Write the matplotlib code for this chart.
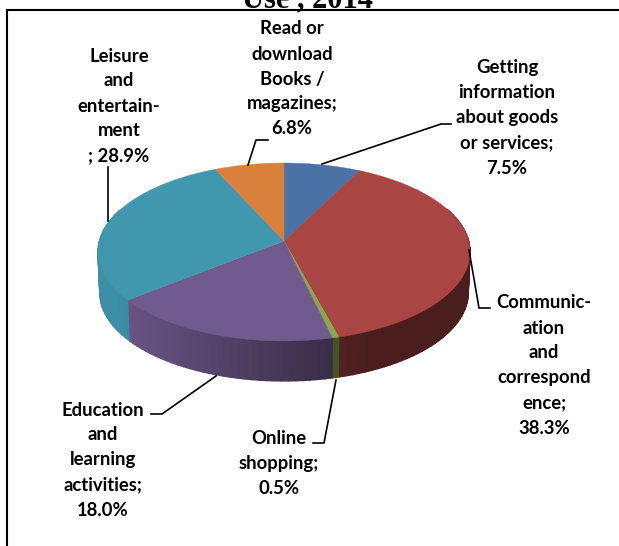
import matplotlib
matplotlib.use("Agg")
import matplotlib.pyplot as plt
import numpy as np

# values clockwise from 12 o'clock
names = ["Getting\ninformation\nabout goods\nor services;",
         "Communic-\nation\nand\ncorrespond\nence;",
         "Online\nshopping;",
         "Education\nand\nlearning\nactivities;",
         "Leisure\nand\nentertain-\nment\n",
         "Read or\ndownload\nBooks /\nmagazines;"]
shares = [7.5, 38.3, 0.5, 18.0, 28.9, 6.8]
colors = ["#4a72a6", "#a94543", "#8aa84a", "#715a8e", "#4097ae", "#d7813c"]
title = "Use , 2014"

# label centres and first line y, in pixels
label_x = [507, 544, 279, 103, 119, 292]
label_y = [68, 303, 438, 410, 56, 29]

leaders = [
    [(451, 124), (441, 124), (322, 164)],
    [(469, 250), (479, 308), (490, 308)],
    [(313, 443), (324, 443), (336, 380)],
    [(151, 414), (162, 414), (216, 376)],
    [(108, 167), (108, 221)],
    [(268, 140), (256, 140), (248, 165)],
]

# pie geometry, the slight perspective of the original 3d chart
cx, cy = 284, 241
A, B, k = 184.6, 87.6, 0.1236
depth = 41


def rim(theta, scale=1.0, dy=0):
    u = np.sin(theta)
    v = np.cos(theta)
    w = 1 + k * v
    return cx + scale * A * u / w, cy - scale * B * v / w + dy


def shade(color, x):
    m = np.clip(0.92 - (x - 130) / 205 * 0.42, 0.43, 0.95)
    return tuple(c * m for c in matplotlib.colors.to_rgb(color))


fig = plt.figure(figsize=(6.19, 5.46), dpi=100)
ax = fig.add_axes([0, 0, 1, 1])
ax.set_xlim(0, 619)
ax.set_ylim(546, 0)
ax.axis("off")

edges = np.deg2rad(np.cumsum([0] + shares) / sum(shares) * 360)

# side wall first
for i in range(len(shares)):
    a, b = edges[i], edges[i + 1]
    n = max(2, int(np.degrees(b - a) / 2) + 1)
    t = np.linspace(a, b, n)
    for t0, t1 in zip(t[:-1], t[1:]):
        if np.cos(t0) > 0.35 and np.cos(t1) > 0.35:
            continue
        x0, y0 = rim(t0)
        x1, y1 = rim(t1)
        x2, y2 = rim(t1, 0.99, depth)
        x3, y3 = rim(t0, 0.99, depth)
        col = shade(colors[i], (x0 + x1) / 2)
        ax.fill([x0, x1, x2, x3], [y0, y1, y2, y3], color=col, lw=1.0)

# top face
for i in range(len(shares)):
    t = np.linspace(edges[i], edges[i + 1], 80)
    xs, ys = rim(t)
    ax.fill(np.r_[cx, xs], np.r_[cy, ys], color=colors[i], lw=0.3)

# frame of the page
ax.plot([7, 7, 619], [546, 10, 10], color="black", lw=1.5, solid_joinstyle="miter")

ax.text(307, 7, title, family="Liberation Serif", weight="bold", fontsize=22,
        ha="center", va="baseline", color="black")

for pts in leaders:
    ax.plot([p[0] for p in pts], [p[1] for p in pts], color="black", lw=1.2)

for name, share, x, y in zip(names, shares, label_x, label_y):
    lines = name.split("\n")
    if lines[-1] == "":
        lines[-1] = "; {:.1f}%".format(share)
    else:
        lines.append("{:.1f}%".format(share))
    for j, line in enumerate(lines):
        ax.text(x, y + 25 * j, line, family="Lato", weight="bold", fontsize=13.3,
                ha="center", va="center", color="black")

fig.savefig("out.png", dpi=100)
